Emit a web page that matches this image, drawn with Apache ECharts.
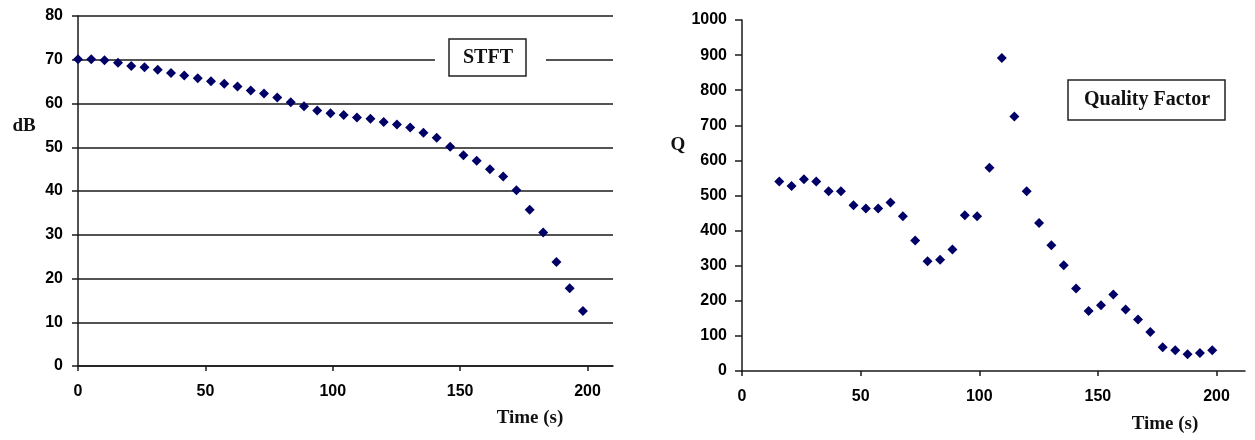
<!DOCTYPE html>
<html>
<head>
<meta charset="utf-8">
<script src="https://cdn.jsdelivr.net/npm/echarts@6/dist/echarts.min.js"></script>
<style>html,body{margin:0;padding:0;background:#fff;}#c{width:1255px;height:440px;}</style>
</head>
<body>
<div id="c"></div>
<script>
// STFT (left)
var stftTime = [0, 5.2, 10.4, 15.7, 20.9, 26.1, 31.3, 36.5, 41.7, 47.0, 52.2, 57.4, 62.6, 67.8, 73.0, 78.2, 83.5, 88.7, 93.9, 99.1, 104.3, 109.5, 114.8, 120.0, 125.2, 130.4, 135.6, 140.8, 146.1, 151.3, 156.5, 161.7, 166.9, 172.1, 177.3, 182.6, 187.8, 193.0, 198.2];
var stftDb = [70.1, 70.1, 69.9, 69.3, 68.6, 68.3, 67.7, 67.0, 66.4, 65.8, 65.1, 64.5, 63.9, 63.0, 62.3, 61.4, 60.3, 59.4, 58.4, 57.8, 57.4, 56.8, 56.5, 55.8, 55.2, 54.5, 53.3, 52.2, 50.1, 48.2, 46.9, 45.0, 43.3, 40.2, 35.7, 30.5, 23.8, 17.8, 12.6];
// Quality factor (right)
var qTime = [15.7, 20.9, 26.1, 31.3, 36.5, 41.7, 47.0, 52.2, 57.4, 62.6, 67.8, 73.0, 78.2, 83.5, 88.7, 93.9, 99.1, 104.3, 109.5, 114.8, 120.0, 125.2, 130.4, 135.6, 140.8, 146.1, 151.3, 156.5, 161.7, 166.9, 172.1, 177.3, 182.6, 187.8, 193.0, 198.2];
var qValues = [540, 527, 546, 540, 512, 512, 472, 463, 463, 480, 441, 372, 313, 317, 346, 444, 441, 579, 892, 725, 512, 422, 358, 301, 235, 171, 187, 218, 175, 147, 111, 68, 59, 48, 51, 59];
var xTicks = [0, 50, 100, 150, 200];

var chart = echarts.init(document.getElementById('c'), null, {renderer: 'canvas'});
var labelFont = {color: '#000', fontFamily: 'Liberation Sans', fontWeight: 'bold', fontSize: 16};
var lineStyle = {color: '#1a1a1a', width: 1.5};
function plain(v) { return String(v); }
function pairs(xs, ys) { return xs.map(function (x, i) { return [x, ys[i]]; }); }

var option = {
  animation: false,
  backgroundColor: '#fff',
  grid: [
    {left: 78, right: 642, top: 16, bottom: 74, containLabel: false},
    {left: 742, right: 10, top: 20, bottom: 69, containLabel: false}
  ],
  xAxis: [
    {gridIndex: 0, type: 'value', min: 0, max: 210,
     axisLine: {show: true, onZero: false, lineStyle: lineStyle},
     axisTick: {show: true, length: 5, customValues: xTicks, lineStyle: lineStyle},
     axisLabel: Object.assign({margin: 18, customValues: xTicks, formatter: plain}, labelFont),
     splitLine: {show: false}},
    {gridIndex: 1, type: 'value', min: 0, max: 212,
     axisLine: {show: true, onZero: false, lineStyle: lineStyle},
     axisTick: {show: true, length: 5, customValues: xTicks, lineStyle: lineStyle},
     axisLabel: Object.assign({margin: 18, customValues: xTicks, formatter: plain}, labelFont),
     splitLine: {show: false}}
  ],
  yAxis: [
    {gridIndex: 0, type: 'value', min: 0, max: 80, interval: 10,
     axisLine: {show: true, lineStyle: lineStyle},
     axisTick: {show: true, length: 6, lineStyle: lineStyle},
     axisLabel: Object.assign({margin: 15, formatter: plain}, labelFont),
     splitLine: {show: true, lineStyle: lineStyle}},
    {gridIndex: 1, type: 'value', min: 0, max: 1000, interval: 100,
     axisLine: {show: true, lineStyle: lineStyle},
     axisTick: {show: true, length: 7, lineStyle: lineStyle},
     axisLabel: Object.assign({margin: 15, formatter: plain}, labelFont),
     splitLine: {show: false}}
  ],
  series: [
    {type: 'scatter', xAxisIndex: 0, yAxisIndex: 0, symbol: 'diamond', symbolSize: 10,
     itemStyle: {color: '#000066', opacity: 1}, data: pairs(stftTime, stftDb), z: 5},
    {type: 'scatter', xAxisIndex: 1, yAxisIndex: 1, symbol: 'diamond', symbolSize: 10,
     itemStyle: {color: '#000066', opacity: 1}, data: pairs(qTime, qValues), z: 5}
  ],
  graphic: [
    {type: 'rect', z: 100, shape: {x: 435, y: 54, width: 111, height: 12}, style: {fill: '#fff'}},
    {type: 'rect', z: 101, shape: {x: 449, y: 39, width: 77, height: 37}, style: {fill: '#fff', stroke: '#222', lineWidth: 1.5}},
    {type: 'text', z: 102, x: 488, y: 58, style: {text: 'STFT', font: 'bold 20px "Liberation Serif"', fill: '#111', textAlign: 'center', textVerticalAlign: 'middle'}},
    {type: 'text', z: 102, x: 24, y: 126, style: {text: 'dB', font: 'bold 19px "Liberation Serif"', fill: '#111', textAlign: 'center', textVerticalAlign: 'middle'}},
    {type: 'text', z: 102, x: 530, y: 418, style: {text: 'Time (s)', font: 'bold 19px "Liberation Serif"', fill: '#111', textAlign: 'center', textVerticalAlign: 'middle'}},
    {type: 'rect', z: 101, shape: {x: 1068, y: 80, width: 157, height: 40}, style: {fill: '#fff', stroke: '#222', lineWidth: 1.5}},
    {type: 'text', z: 102, x: 1147, y: 100, style: {text: 'Quality Factor', font: 'bold 20px "Liberation Serif"', fill: '#111', textAlign: 'center', textVerticalAlign: 'middle'}},
    {type: 'text', z: 102, x: 678, y: 145, style: {text: 'Q', font: 'bold 19px "Liberation Serif"', fill: '#111', textAlign: 'center', textVerticalAlign: 'middle'}},
    {type: 'text', z: 102, x: 1165, y: 424, style: {text: 'Time (s)', font: 'bold 19px "Liberation Serif"', fill: '#111', textAlign: 'center', textVerticalAlign: 'middle'}}
  ]
};
chart.setOption(option);
</script>
</body>
</html>
